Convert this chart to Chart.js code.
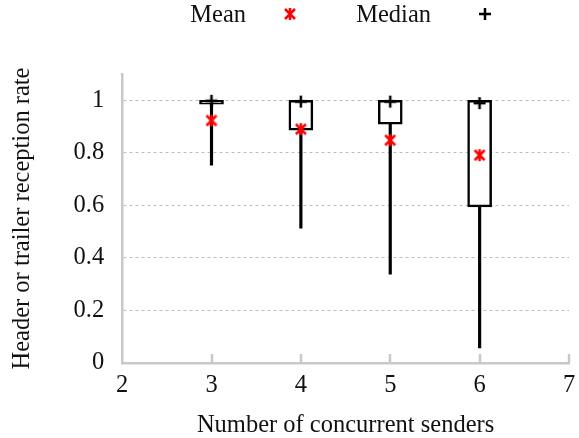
<!DOCTYPE html>
<html>
<head>
<meta charset="utf-8">
<script src="https://cdn.jsdelivr.net/npm/chart.js@4.4.1/dist/chart.umd.min.js"></script>
<style>
  html, body { margin: 0; padding: 0; background: #fff; }
  #wrap { width: 579px; height: 438px; }
</style>
</head>
<body>
<div id="wrap"><canvas id="chart" width="579" height="438"></canvas></div>
<script>
// Data
const senders = [3, 4, 5, 6];
const whiskerLow = [0.753, 0.513, 0.338, 0.057];
const q1 = [0.985, 0.886, 0.909, 0.594];
const q3 = [1.0, 1.0, 1.0, 1.0];
const means = [0.923, 0.890, 0.848, 0.791];
const medians = [0.998, 0.995, 0.995, 0.989];
const yTicks = [0, 0.2, 0.4, 0.6, 0.8, 1];
const legendNames = ['Mean', 'Median'];

const FONT = { family: "'Liberation Serif', 'DejaVu Serif', serif", size: 24.5, lineHeight: 1 };
const AXIS_GREY = '#c8c8c8';

// gnuplot-like markers: asterisk (| + x) and plus
function markerCanvas(style, color) {
  const s = 16, m = s / 2, r = 6;
  const cv = document.createElement('canvas');
  cv.width = s; cv.height = s;
  const c = cv.getContext('2d');
  c.strokeStyle = color;
  c.lineWidth = 2.5;
  c.beginPath();
  c.moveTo(m, m - r); c.lineTo(m, m + r);
  if (style === 'star') {
    const d = 5;
    c.moveTo(m - d, m - d); c.lineTo(m + d, m + d);
    c.moveTo(m - d, m + d); c.lineTo(m + d, m - d);
  } else {
    c.moveTo(m - r, m); c.lineTo(m + r, m);
  }
  c.stroke();
  return cv;
}
const starMark = markerCanvas('star', '#ff0000');
const plusMark = markerCanvas('plus', '#000');

// inward tick marks on the x axis + legend drawn like the original
const extras = {
  id: 'extras',
  afterDatasetsDraw(chart) {
    const x = chart.scales.x, y = chart.scales.y;
    const c = chart.ctx;
    c.save();
    c.strokeStyle = AXIS_GREY;
    c.lineWidth = 2.5;
    for (let v = 3; v <= 7; v++) {
      const px = Math.round(x.getPixelForValue(v));
      c.beginPath();
      c.moveTo(px, y.bottom);
      c.lineTo(px, y.bottom - 9);
      c.stroke();
    }
    c.restore();

    // legend
    const ds = chart.data.datasets;
    const items = legendNames.map(n => ds.find(d => d.label === n));
    const textRight = [246, 431];
    const markX = [290, 485];
    c.save();
    c.font = `${FONT.size}px ${FONT.family}`;
    c.fillStyle = '#111';
    c.textAlign = 'right';
    c.textBaseline = 'middle';
    items.forEach((d, i) => {
      c.fillText(d.label, textRight[i], 16);
      const img = d.pointStyle;
      c.drawImage(img, markX[i] - img.width / 2, 14 - img.height / 2);
    });
    c.restore();
  }
};

const ctx = document.getElementById('chart').getContext('2d');
const chart = new Chart(ctx, {
  type: 'bar',
  data: {
    datasets: [
      {
        label: 'whisker',
        data: senders.map((s, i) => ({ x: s, y: [whiskerLow[i], q1[i]] })),
        backgroundColor: '#000',
        borderWidth: 0,
        barThickness: 2.5,
        grouped: false,
        order: 3
      },
      {
        label: 'box',
        data: senders.map((s, i) => ({ x: s, y: [q1[i], q3[i]] })),
        backgroundColor: '#fff',
        borderColor: '#000',
        borderWidth: 2.5,
        borderSkipped: false,
        barThickness: 24,
        grouped: false,
        order: 2
      },
      {
        type: 'scatter',
        label: 'Mean',
        data: senders.map((s, i) => ({ x: s, y: means[i] })),
        pointStyle: starMark,
        order: 1
      },
      {
        type: 'scatter',
        label: 'Median',
        data: senders.map((s, i) => ({ x: s, y: medians[i] })),
        pointStyle: plusMark,
        order: 0
      }
    ]
  },
  options: {
    responsive: false,
    animation: false,
    layout: { padding: { left: 10, right: 10, top: 74, bottom: 0 } },
    scales: {
      x: {
        type: 'linear',
        min: 2,
        max: 7,
        offset: false,
        afterFit(scale) { scale.paddingRight = 0; scale.paddingLeft = 0; },
        ticks: { stepSize: 1, color: '#111', font: FONT, padding: 10 },
        grid: { display: false, drawTicks: false },
        border: { color: AXIS_GREY, width: 2.5 },
        title: { display: true, text: 'Number of concurrent senders', color: '#111', font: FONT, padding: { top: 6, bottom: 0 } }
      },
      y: {
        min: 0,
        max: 1.1,
        afterBuildTicks(scale) { scale.ticks = yTicks.map(v => ({ value: v })); },
        ticks: { color: '#111', font: FONT, padding: 18, callback: v => String(v) },
        grid: {
          color: ctx => ctx.tick && ctx.tick.value === 0 ? 'rgba(0,0,0,0)' : '#bdbdbd',
          drawTicks: false,
          lineWidth: 1
        },
        border: { color: AXIS_GREY, width: 2.5, dash: [3, 3] },
        title: { display: true, text: 'Header or trailer reception rate', color: '#111', font: FONT, padding: { top: 0, bottom: 21 } }
      }
    },
    plugins: {
      tooltip: { enabled: false },
      legend: { display: false }
    }
  },
  plugins: [extras]
});
</script>
</body>
</html>
